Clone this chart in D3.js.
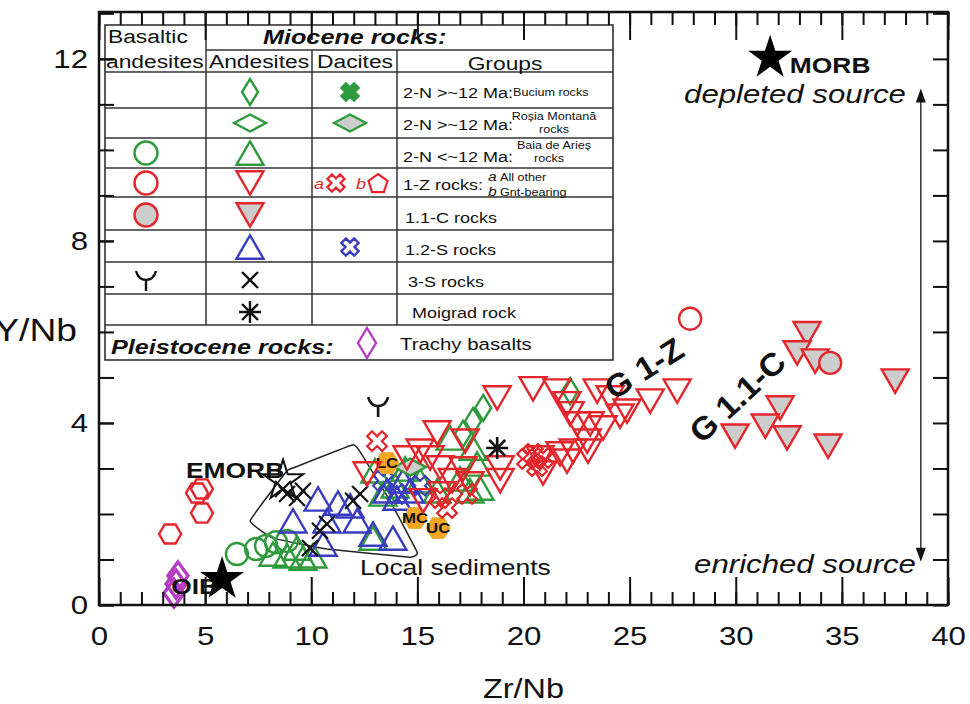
<!DOCTYPE html>
<html>
<head>
<meta charset="utf-8">
<script src="https://cdn.jsdelivr.net/npm/d3@7"></script>
<style>
  body { margin: 0; background: #fff; }
  svg { display: block; }
  text { font-family: "Liberation Sans", Arial, Helvetica, sans-serif; }
</style>
</head>
<body>
<script>
// Zr/Nb vs Y/Nb, values as [Zr/Nb, Y/Nb]

// 1-Z andesites
var redTriDown = [[18.76,4.55],[20.45,4.75],[21.58,4.70],[22.05,4.42],[22.2,4.20],[23.47,4.70],
  [24.08,4.55],[24.55,4.15],[24.88,4.26],[25.97,4.48],[27.24,4.70],[22.53,3.98],[23.14,3.98],
  [23.75,3.89],[23.0,3.60],[23.04,3.38],[22.34,3.38],[21.72,3.32],[22.05,3.16],[20.78,3.23],
  [20.92,2.90],[18.90,3.01],[18.90,2.73],[15.93,3.78],[17.25,3.60],[15.13,3.38],[15.6,3.23],
  [14.51,3.23],[16.07,3.01],[17.15,2.99],[16.64,2.73],[17.48,2.66],[16.16,2.44],[15.27,2.29],
  [12.63,2.88]];
// 1.1-C andesites
var grayTriDown = [[33.36,5.96],[32.89,5.54],[33.74,5.36],[32.09,4.33],[31.39,3.93],[32.42,3.67],
  [29.97,3.71],[34.35,3.49],[37.51,4.92]];
var grayCircle = [[34.45,5.32]];   // 1.1-C basaltic andesite
var redCircle = [[27.85,6.29]];    // 1-Z basaltic andesite
var redCross = [[13.1,3.60],[20.17,3.21],[20.45,3.32],[20.92,3.23],[20.64,3.05],[16.07,2.35],
  [16.4,2.13],[17.34,2.44]];       // 1-Z dacites (a)
var redHex = [[3.35,1.56],[4.62,2.46],[4.85,2.55],[4.85,2.02]];   // 1-Z dacites (b)
// 2-N rocks
var greenCircle = [[6.5,1.12],[7.4,1.23],[7.87,1.30],[8.34,1.38],[8.86,1.41]];
var greenTriUp = [[8.2,1.12],[8.86,1.08],[9.33,1.25],[9.61,1.03],[10.08,1.08],[12.91,1.47],
  [13.38,2.44],[13.0,2.95],[13.95,2.62],[14.42,2.99],[15.13,2.73],[15.93,2.51],[16.54,3.67],
  [17.01,2.77],[17.48,2.51],[17.62,3.45],[17.81,3.10],[17.95,2.57]];
var greenDiamond = [[22.2,4.70],[18.1,4.33],[17.62,4.04],[17.15,3.76]];
var greenDiamondGray = [[14.66,3.03]];
// 1.2-S rocks
var blueTriUp = [[9.14,1.85],[10.32,2.33],[10.74,1.85],[10.56,1.34],[11.26,2.24],[11.83,2.18],
  [12.16,1.85],[12.91,1.56],[13.85,1.47],[13.57,2.51],[14.04,2.35],[14.33,2.73],[14.66,2.51]];
var blueCross = [[13.38,2.73],[14.04,2.44],[15.13,2.62]];
// 3-S, Moigrad, Pleistocene
var blackX = [[8.67,2.55],[8.86,2.44],[9.33,2.35],[9.61,2.51],[9.94,1.25],[10.41,1.63],
  [10.74,1.78],[11.97,2.29],[12.3,2.44]];
var blackY = [[13.15,4.37]];
var moigrad = [[18.76,3.45]];
var trachyBasalt = [[3.72,0.64],[3.63,0.46],[3.53,0.26]];
// reference compositions
var oib = [5.8, 0.57], emorb = [8.67, 2.73], morb = [31.62, 12.02];
var crustNames = ["LC", "MC", "UC"];
var crustValues = [[13.57,3.12],[14.89,1.91],[15.98,1.69]];
var sediments = [[7.12,1.85],[8.86,2.95],[9.14,3.01],[11.97,3.52],[12.39,3.30],[13.71,2.29],
  [14.99,1.16],[14.66,1.05],[10.74,1.23],[8.2,1.47]];

var xTicks = [0,5,10,15,20,25,30,35,40];
var yTicks = [0,4,8,12];

var width = 970, height = 704;
var SX = 1.2;   // the source figure is stretched sideways
var RED = "#e2262c", GREEN = "#2f9a3c", BLUE = "#3a3cc0", PURPLE = "#b43cc0",
    GRAY = "#cdcdcd", ORANGE = "#f5a623";

var x = d3.scaleLinear().domain([0, 40]).range([99, 948]);
var y = d3.scaleLinear().domain([0, 13.03]).range([605, 12]);

var svg = d3.select("body").append("svg")
    .attr("width", width)
    .attr("height", height);

svg.append("rect").attr("width", width).attr("height", height).attr("fill", "#fff");

// ---------- shapes ----------
function poly(pts) {
  return "M" + pts.map(function(p) { return p[0].toFixed(2) + "," + p[1].toFixed(2); }).join("L") + "Z";
}
function ngon(n, r, rot) {
  return poly(d3.range(n).map(function(i) {
    var a = rot + i * 2 * Math.PI / n;
    return [r * Math.cos(a), r * Math.sin(a)];
  }));
}
function crossPath(a, b) {
  var pts = [[-a,-b],[a,-b],[a,-a],[b,-a],[b,a],[a,a],[a,b],[-a,b],[-a,a],[-b,a],[-b,-a],[-a,-a]];
  var c = Math.SQRT1_2;
  return poly(pts.map(function(p) { return [(p[0] - p[1]) * c, (p[0] + p[1]) * c]; }));
}
var TS = 27, TH = TS * Math.sqrt(3) / 2;
var shapes = {
  triDown: poly([[-TS/2,-TH/2],[TS/2,-TH/2],[0,TH/2]]),
  triUp: poly([[-TS/2,TH/2],[TS/2,TH/2],[0,-TH/2]]),
  circle: d3.symbol(d3.symbolCircle, Math.PI * 11 * 11)(),
  circleLg: d3.symbol(d3.symbolCircle, Math.PI * 11.5 * 11.5)(),
  hex: ngon(6, 11, 0),
  pent: ngon(5, 10, -Math.PI / 2),
  cross: crossPath(3.4, 10.5),
  crossSm: crossPath(3.2, 9),
  diamondV: poly([[0,-13],[8,0],[0,13],[-8,0]]),
  diamondP: poly([[0,-14],[10,0],[0,14],[-10,0]]),
  diamondH: poly([[-16,0],[0,-8.5],[16,0],[0,8.5]]),
  xLines: "M-8,-8L8,8M-8,8L8,-8",
  yMark: "M-10,-9C-8,-2 -4,0 0,0C4,0 8,-2 10,-9M0,0L0,11",
  aster: "M-11,0L11,0M0,-11L0,11M-8,-8L8,8M-8,8L8,-8",
  star: d3.symbol(d3.symbolStar, 500)(),
  starBig: d3.symbol(d3.symbolStar, 600)()
};

function label(g, px, py, str, size, opt) {
  opt = opt || {};
  return g.append("text")
      .attr("transform", "translate(" + px + "," + py + ")" +
            (opt.rot ? " rotate(" + opt.rot + ")" : "") +
            " scale(" + (opt.sx || SX) + ",1)")
      .attr("text-anchor", opt.anchor || "start")
      .attr("font-size", size)
      .attr("font-weight", opt.bold ? "bold" : null)
      .attr("font-style", opt.italic ? "italic" : null)
      .attr("fill", opt.fill || "#111")
      .text(str);
}

// ---------- data layer ----------
var gData = svg.append("g");

gData.append("path")
    .datum(sediments)
    .attr("d", d3.line()
        .x(function(d) { return x(d[0]); })
        .y(function(d) { return y(d[1]); })
        .curve(d3.curveCardinalClosed.tension(0.75)))
    .attr("fill", "none").attr("stroke", "#222").attr("stroke-width", 1.5);

function plot(data, shape, stroke, fill, sw) {
  gData.append("g").selectAll("path")
    .data(data)
    .enter().append("path")
      .attr("d", shape)
      .attr("transform", function(d) { return "translate(" + x(d[0]) + "," + y(d[1]) + ")"; })
      .attr("fill", fill || "none")
      .attr("stroke", stroke)
      .attr("stroke-width", sw || 2.4)
      .attr("stroke-linejoin", "miter");
}

plot(trachyBasalt, shapes.diamondP, PURPLE, "none", 3.4);
plot(greenCircle, shapes.circle, GREEN);
plot(greenTriUp, shapes.triUp, GREEN);
plot(blueTriUp, shapes.triUp, BLUE);
plot(blueCross, shapes.cross, BLUE, "none", 2);
plot(blackX, shapes.xLines, "#111", "none", 2.2);
plot(greenDiamond, shapes.diamondV, GREEN);
plot(greenDiamondGray, shapes.diamondH, GREEN, GRAY);

// crustal reference compositions
var crust = gData.append("g").selectAll("g")
    .data(crustValues)
    .enter().append("g")
      .attr("transform", function(d) { return "translate(" + x(d[0]) + "," + y(d[1]) + ")"; });
crust.append("path").attr("d", ngon(6, 12, 0)).attr("fill", ORANGE).attr("stroke", "#f0b040").attr("stroke-width", 1);

plot(redTriDown, shapes.triDown, RED);
plot(redCross, shapes.cross, RED, "none", 2.2);
plot(redHex, shapes.hex, RED);
plot(redCircle, shapes.circle, RED);
plot(grayTriDown, shapes.triDown, RED, GRAY);
plot(grayCircle, shapes.circle, RED, GRAY);
plot(blackY, shapes.yMark, "#111", "none", 2.6);
plot(moigrad, shapes.aster, "#111", "none", 2.6);

crust.append("text")
    .attr("transform", "translate(0,5) scale(" + SX + ",1)")
    .attr("text-anchor", "middle")
    .attr("font-size", 14).attr("font-weight", "bold").attr("fill", "#111")
    .text(function(d, i) { return crustNames[i]; });

// reference stars
gData.append("path").attr("d", shapes.starBig)
    .attr("transform", "translate(" + x(oib[0]) + "," + y(oib[1]) + ")").attr("fill", "#000");
gData.append("path").attr("d", shapes.star)
    .attr("transform", "translate(" + x(emorb[0]) + "," + y(emorb[1]) + ")")
    .attr("fill", "none").attr("stroke", "#111").attr("stroke-width", 2);
gData.append("path").attr("d", shapes.starBig)
    .attr("transform", "translate(" + x(morb[0]) + "," + y(morb[1]) + ")").attr("fill", "#000");

// ---------- annotations ----------
var gAnn = svg.append("g");
label(gAnn, x(32.55), y(11.68), "MORB", 22, {bold: true});
label(gAnn, x(38.02), y(11.03), "depleted source", 26, {italic: true, anchor: "end"});
label(gAnn, x(38.49), y(0.70), "enriched source", 26, {italic: true, anchor: "end"});
label(gAnn, x(5.61), y(0.25), "OIB", 22, {bold: true, anchor: "end"});
label(gAnn, x(4.1), y(2.79), "EMORB", 22, {bold: true});
label(gAnn, x(12.3), y(0.66), "Local sediments", 22);
label(gAnn, x(25.96), y(4.99), "G 1-Z", 32, {bold: true, anchor: "middle", rot: -32, sx: 1.05});
label(gAnn, x(30.44), y(4.40), "G 1.1-C", 32, {bold: true, anchor: "middle", rot: -43, sx: 1.05});

var ax = x(38.72), ay0 = y(11.35), ay1 = y(0.95);
gAnn.append("line").attr("x1", ax).attr("x2", ax).attr("y1", ay0 + 10).attr("y2", ay1 - 10)
    .attr("stroke", "#111").attr("stroke-width", 1.3);
gAnn.append("path").attr("d", poly([[ax, ay0], [ax - 5, ay0 + 14], [ax + 5, ay0 + 14]])).attr("fill", "#111");
gAnn.append("path").attr("d", poly([[ax, ay1], [ax - 5, ay1 - 14], [ax + 5, ay1 - 14]])).attr("fill", "#111");

// ---------- legend table ----------
var lg = svg.append("g");
var LX0 = 105, LX1 = 613, LY0 = 25, LY1 = 360;
var colX = [206, 312, 397];
var rowLines = [72, 108, 138, 168, 197, 230, 262, 294, 325];
var rowMid = [92, 123, 153, 183, 215, 247, 280, 312];
var colMid = [146, 250, 350];

lg.append("rect").attr("x", LX0).attr("y", LY0).attr("width", LX1 - LX0).attr("height", LY1 - LY0)
    .attr("fill", "#fff").attr("stroke", "#333").attr("stroke-width", 1.6);
function hline(yy, x0, x1) {
  lg.append("line").attr("x1", x0).attr("x2", x1).attr("y1", yy).attr("y2", yy)
      .attr("stroke", "#333").attr("stroke-width", 1.5);
}
function vline(xx, y0, y1) {
  lg.append("line").attr("x1", xx).attr("x2", xx).attr("y1", y0).attr("y2", y1)
      .attr("stroke", "#333").attr("stroke-width", 1.5);
}
hline(50, colX[0], LX1);
rowLines.forEach(function(r) { hline(r, LX0, LX1); });
vline(colX[0], LY0, 325);
vline(colX[1], 50, 325);
vline(colX[2], 50, 325);

label(lg, 108, 43, "Basaltic", 19);
label(lg, 106, 68, "andesites", 19);
label(lg, 263, 44, "Miocene rocks:", 21, {bold: true, italic: true});
label(lg, 259, 68, "Andesites", 19, {anchor: "middle"});
label(lg, 355, 68, "Dacites", 19, {anchor: "middle"});
label(lg, 505, 70, "Groups", 19, {anchor: "middle"});

var legendGroups = ["2-N >~12 Ma:", "2-N >~12 Ma:", "2-N <~12 Ma:", "1-Z rocks:",
  "1.1-C rocks", "1.2-S rocks", "3-S rocks", "Moigrad rock"];
var groupX = [403, 403, 403, 403, 405, 405, 408, 412];
var groupBase = [98, 130, 162, 190, 223, 255, 287, 318];
legendGroups.forEach(function(s, i) { label(lg, groupX[i], groupBase[i], s, 15); });

label(lg, 513, 96, "Bucium rocks", 10.5);
label(lg, 554, 120, "Roșia Montană", 10.5, {anchor: "middle"});
label(lg, 554, 133, "rocks", 10.5, {anchor: "middle"});
label(lg, 554, 149, "Baia de Arieș", 10.5, {anchor: "middle"});
label(lg, 549, 162, "rocks", 10.5, {anchor: "middle"});
label(lg, 488, 181, "a", 13, {italic: true});
label(lg, 500, 181, "All other", 10.5);
label(lg, 488, 196, "b", 13, {italic: true});
label(lg, 500, 196, "Gnt-bearing", 10.5);

// legend swatches: [column, row, shape, stroke, fill]
var legendMarks = [
  [1, 0, "diamondV", GREEN, "none"], [2, 0, "crossSm", GREEN, GREEN],
  [1, 1, "diamondH", GREEN, "none"], [2, 1, "diamondH", GREEN, GRAY],
  [0, 2, "circleLg", GREEN, "none"], [1, 2, "triUp", GREEN, "none"],
  [0, 3, "circleLg", RED, "none"], [1, 3, "triDown", RED, "none"],
  [0, 4, "circleLg", RED, GRAY], [1, 4, "triDown", RED, GRAY],
  [1, 5, "triUp", BLUE, "none"], [2, 5, "crossSm", BLUE, "none"],
  [0, 6, "yMark", "#111", "none"], [1, 6, "xLines", "#111", "none"],
  [1, 7, "aster", "#111", "none"]
];
legendMarks.forEach(function(m) {
  lg.append("path").attr("d", shapes[m[2]])
      .attr("transform", "translate(" + colMid[m[0]] + "," + rowMid[m[1]] + ")")
      .attr("stroke", m[3]).attr("fill", m[4]).attr("stroke-width", 2.4);
});
// 1-Z dacites a / b
label(lg, 314, 189, "a", 15, {italic: true, fill: RED});
lg.append("path").attr("d", shapes.crossSm).attr("transform", "translate(336,183)")
    .attr("stroke", RED).attr("fill", "none").attr("stroke-width", 2.2);
label(lg, 356, 189, "b", 15, {italic: true, fill: RED});
lg.append("path").attr("d", shapes.pent).attr("transform", "translate(378,184)")
    .attr("stroke", RED).attr("fill", "none").attr("stroke-width", 2.2);

label(lg, 111, 354, "Pleistocene rocks:", 21, {bold: true, italic: true});
lg.append("path").attr("d", poly([[0,-15],[9,0],[0,15],[-9,0]]))
    .attr("transform", "translate(367,343)")
    .attr("stroke", PURPLE).attr("fill", "none").attr("stroke-width", 2.4);
label(lg, 400, 350, "Trachy basalts", 17);

// ---------- axes ----------
var gAxes = svg.append("g");
function styleAxis(g) {
  g.select(".domain").remove();
  g.selectAll("line").attr("stroke", "#111").attr("stroke-width", 2);
  g.attr("font-family", null).attr("font-size", null);
}
var xMinor = d3.range(0, 41), yMinor = d3.range(0, 14);

gAxes.append("g").attr("transform", "translate(0," + y(0) + ")")
    .call(d3.axisBottom(x).tickValues(xMinor).tickSize(-13).tickFormat("")).call(styleAxis);
gAxes.append("g").attr("transform", "translate(0," + y(0) + ")")
    .call(d3.axisBottom(x).tickValues(xTicks).tickSize(-28).tickPadding(22)).call(styleAxis)
  .selectAll("text")
    .attr("font-size", 26).attr("fill", "#111")
    .attr("transform", "scale(" + SX + ",1)");

gAxes.append("g").attr("transform", "translate(0," + y.range()[1] + ")")
    .call(d3.axisTop(x).tickValues(xMinor).tickSize(-13).tickFormat("")).call(styleAxis);
gAxes.append("g").attr("transform", "translate(0," + y.range()[1] + ")")
    .call(d3.axisTop(x).tickValues(xTicks).tickSize(-28).tickFormat("")).call(styleAxis);

gAxes.append("g").attr("transform", "translate(" + x(0) + ",0)")
    .call(d3.axisLeft(y).tickValues(yMinor).tickSize(-15).tickFormat("")).call(styleAxis);
gAxes.append("g").attr("transform", "translate(" + x(0) + ",0)")
    .call(d3.axisLeft(y).tickValues(yTicks).tickSize(-15)).call(styleAxis)
  .selectAll("text")
    .attr("x", null)
    .attr("font-size", 26).attr("fill", "#111")
    .attr("transform", "translate(-11,0) scale(" + SX + ",1)");

gAxes.append("g").attr("transform", "translate(" + x(40) + ",0)")
    .call(d3.axisRight(y).tickValues(yMinor).tickSize(-15).tickFormat("")).call(styleAxis);

gAxes.append("rect")
    .attr("x", x(0)).attr("y", y.range()[1])
    .attr("width", x(40) - x(0)).attr("height", y(0) - y.range()[1])
    .attr("fill", "none").attr("stroke", "#111").attr("stroke-width", 2.5);

label(gAxes, (x(0) + x(40)) / 2, 698, "Zr/Nb", 27, {anchor: "middle"});
// the left edge of the picture cuts into the "Y"
label(gAxes, 77, 341, "Y/Nb", 31, {anchor: "end"});
</script>
</body>
</html>
